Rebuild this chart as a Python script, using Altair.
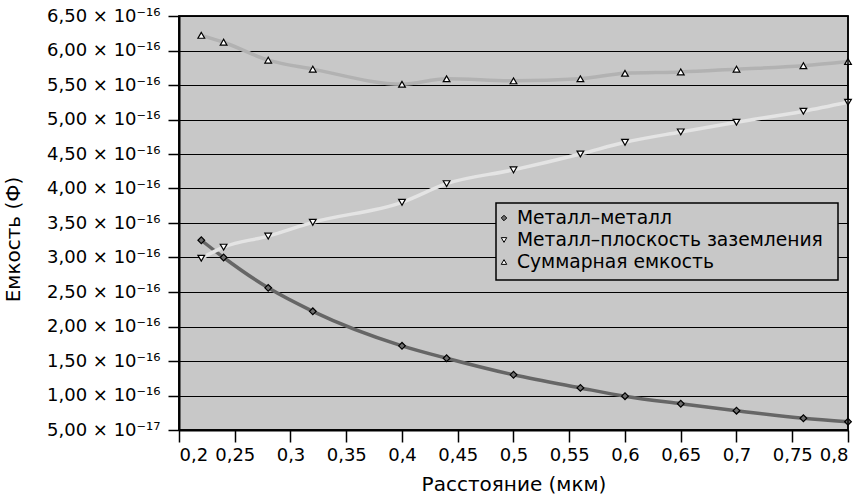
import altair as alt
import pandas as pd

x_vals = [0.22, 0.24, 0.28, 0.32, 0.40, 0.44, 0.50, 0.56, 0.60, 0.65, 0.70, 0.76, 0.80]
metal_metal = [3.25e-16, 3.00e-16, 2.56e-16, 2.22e-16, 1.72e-16, 1.54e-16, 1.30e-16,
               1.11e-16, 0.99e-16, 0.88e-16, 0.78e-16, 0.67e-16, 0.62e-16]
metal_ground = [2.99e-16, 3.15e-16, 3.31e-16, 3.51e-16, 3.80e-16, 4.07e-16, 4.27e-16,
                4.50e-16, 4.67e-16, 4.82e-16, 4.96e-16, 5.12e-16, 5.25e-16]
total = [6.22e-16, 6.12e-16, 5.86e-16, 5.73e-16, 5.51e-16, 5.59e-16, 5.56e-16,
         5.59e-16, 5.67e-16, 5.69e-16, 5.73e-16, 5.78e-16, 5.84e-16]

series_names = ["Металл–металл", "Металл–плоскость заземления", "Суммарная емкость"]
x_ticks = [0.2, 0.25, 0.3, 0.35, 0.4, 0.45, 0.5, 0.55, 0.6, 0.65, 0.7, 0.75, 0.8]
y_ticks = [0.5, 1.0, 1.5, 2.0, 2.5, 3.0, 3.5, 4.0, 4.5, 5.0, 5.5, 6.0, 6.5]

rows = []
for name, vals in zip(series_names, [metal_metal, metal_ground, total]):
    for xv, yv in zip(x_vals, vals):
        rows.append({"x": xv, "yu": yv * 1e16, "series": name, "line": name})
df = pd.DataFrame(rows)
legend_df = pd.DataFrame({"series": series_names})
one_row = pd.DataFrame({"k": [0]})

FONT = "DejaVu Sans"

shape_scale = alt.Scale(domain=series_names, range=["diamond", "triangle-down", "triangle-up"])
fill_scale = alt.Scale(domain=series_names, range=["#6e6e6e", "white", "white"])

axis_common = dict(domainColor="black", domainWidth=2, tickColor="black",
                   tickWidth=1.5, labelFontSize=18, titleFontSize=20, labelColor="black",
                   titleColor="black", titleFontWeight="normal", labelFont=FONT,
                   titleFont=FONT, labelOverlap=False, tickCount=13)

x_enc = alt.X("x:Q", scale=alt.Scale(domain=[0.2, 0.8], nice=False, zero=False),
              axis=alt.Axis(title="Расстояние (мкм)", values=x_ticks,
                            labelExpr="replace(format(datum.value, ''), '.', ',')",
                            grid=False, tickSize=12, labelPadding=4, titlePadding=10,
                            **axis_common))
y_enc = alt.Y("yu:Q", scale=alt.Scale(domain=[0.5, 6.5], nice=False, zero=False),
              axis=alt.Axis(title="Емкость (Ф)", values=y_ticks,
                            labelExpr="datum.value < 0.99 ? replace(format(datum.value*10, '.2f'), '.', ',') + ' × 10⁻¹⁷' : replace(format(datum.value, '.2f'), '.', ',') + ' × 10⁻¹⁶'",
                            grid=True, gridColor="black", gridWidth=1, gridOpacity=1,
                            tickSize=11, labelPadding=8,
                            titleX=-166, titleY=223, titleAngle=270,
                            titleAlign="center", titleBaseline="middle",
                            **axis_common))

lines = alt.Chart(df).mark_line(strokeWidth=3.5, interpolate="monotone").encode(
    x=x_enc, y=y_enc,
    stroke=alt.Stroke("line:N", scale=alt.Scale(domain=series_names,
                                                range=["#666666", "#e4e4e4", "#b2b2b2"]),
                      legend=None),
)

points = alt.Chart(df).mark_point(filled=True, stroke="black", strokeWidth=1.2, size=45, opacity=1).encode(
    x="x:Q", y="yu:Q",
    fill=alt.Fill("series:N", scale=fill_scale, legend=None),
    shape=alt.Shape("series:N", scale=shape_scale, legend=None),
)

# plot frame (top / right border)
frame = alt.Chart(one_row).mark_rect(fillOpacity=0, stroke="black", strokeWidth=1.5).encode(
    x=alt.value(0), x2=alt.value(669), y=alt.value(0), y2=alt.value(414)
)

# legend box inside the plot
leg_box = alt.Chart(one_row).mark_rect(fill="#c8c8c8", stroke="black", strokeWidth=1.5).encode(
    x=alt.value(317), x2=alt.value(659), y=alt.value(187), y2=alt.value(264)
)
leg_base = alt.Chart(legend_df).transform_window(
    idx="row_number()"
).transform_calculate(ly="202 + 22 * (datum.idx - 1)")
leg_sym = leg_base.mark_point(filled=True, stroke="black", strokeWidth=1, size=30, opacity=1).encode(
    x=alt.value(325), y=alt.Y("ly:Q", scale=None, axis=None),
    fill=alt.Fill("series:N", scale=fill_scale, legend=None),
    shape=alt.Shape("series:N", scale=shape_scale, legend=None),
)
leg_txt = leg_base.mark_text(align="left", baseline="middle", font=FONT, fontSize=18.7,
                             color="black").encode(
    x=alt.value(338), y=alt.Y("ly:Q", scale=None, axis=None), text="series:N"
)

chart = alt.layer(lines, points, frame, leg_box, leg_sym, leg_txt).properties(
    width=669, height=414,
    autosize=alt.AutoSizeParams(type="none"),
    padding={"left": 179, "top": 16, "right": 16, "bottom": 74},
).configure(background="white").configure_view(fill="#c8c8c8", stroke="black", strokeWidth=1.5)

chart.save("out.html", embed_options={"renderer": "svg", "actions": False})
